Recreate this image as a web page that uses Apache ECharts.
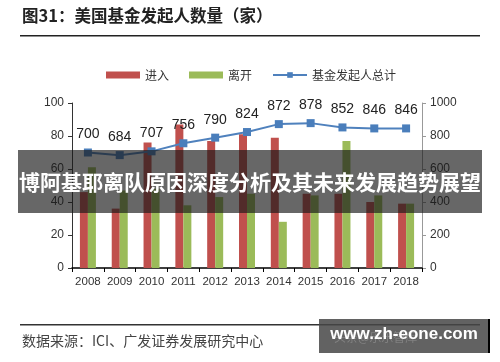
<!DOCTYPE html>
<html><head><meta charset="utf-8">
<script src="https://cdn.jsdelivr.net/npm/echarts@6/dist/echarts.min.js"></script>
<style>html,body{margin:0;padding:0;background:#fff}#c{width:500px;height:362px}</style>
</head><body><div id="c"></div>
<script>
const years = ['2008','2009','2010','2011','2012','2013','2014','2015','2016','2017','2018'];
const enter = [46,36,76,87,77,81,79,45,45,40,39];
const leave = [61,47,48,38,43,45,28,44,77,44,39];
const total = [700,684,707,756,790,824,872,878,852,846,846];
const leftTicks = [0,100,20];
const rightTicks = [0,1000,200];

const chart = echarts.init(document.getElementById('c'));
const axisCol = '#333';
chart.setOption({
  animation:false,
  backgroundColor:'#fff',
  textStyle:{fontFamily:'Liberation Sans, Arial, sans-serif'},
  legend:{
    left:101, top:64, itemWidth:34, itemHeight:7, itemGap:20,
    textStyle:{fontSize:12,color:'#333',fontFamily:'Noto Sans CJK SC'},
    data:[{name:'进入',icon:'rect'},{name:'离开',icon:'rect'},{name:'基金发起人总计'}]
  },
  grid:{left:72,right:78,top:103,bottom:94},
  xAxis:{
    type:'category', data:years,
    axisLine:{lineStyle:{color:'#000',width:1.5}},
    axisTick:{show:true,length:4,lineStyle:{color:'#000'}},
    axisLabel:{color:axisCol,fontSize:11.5,margin:8,interval:0}
  },
  yAxis:[
    {type:'value',min:leftTicks[0],max:leftTicks[1],interval:leftTicks[2],
     splitLine:{show:false},
     axisLine:{show:true,lineStyle:{color:'#333'}},
     axisTick:{show:true,length:4,lineStyle:{color:'#333'}},
     axisLabel:{color:axisCol,fontSize:12,margin:8}},
    {type:'value',min:rightTicks[0],max:rightTicks[1],interval:rightTicks[2],
     splitLine:{show:false},
     axisLine:{show:true,lineStyle:{color:'#999'}},
     axisTick:{show:true,length:4,lineStyle:{color:'#999'}},
     axisLabel:{color:axisCol,fontSize:12,margin:8,formatter:v=>String(v)}}
  ],
  series:[
    {name:'进入',type:'bar',data:enter,barWidth:8,barGap:'0%',itemStyle:{color:'#c0504d'}},
    {name:'离开',type:'bar',data:leave,barWidth:8,barGap:'0%',itemStyle:{color:'#9bbb59'}},
    {name:'基金发起人总计',type:'line',yAxisIndex:1,data:total,
     symbol:'rect',symbolSize:8,
     lineStyle:{color:'#4f81bd',width:2},itemStyle:{color:'#4a7ebb'},
     label:{show:true,position:'top',distance:7,fontSize:14,color:'#222'}}
  ],
  graphic:[
    {type:'text',left:22,top:7,style:{text:'图31：美国基金发起人数量（家）',fontSize:16.5,fontWeight:'bold',fill:'#222',fontFamily:'Noto Sans CJK SC'}},
    {type:'rect',shape:{x:20,y:35,width:460,height:1.5},style:{fill:'#222'}},
    {type:'rect',shape:{x:20,y:324,width:460,height:1.5},style:{fill:'#333'}},
    {type:'text',left:22,top:334,style:{text:'数据来源：ICI、广发证券发展研究中心',fontSize:14,fill:'#444',fontFamily:'Noto Sans CJK SC'}},
    {type:'rect',z:100,shape:{x:18,y:150,width:464,height:63},style:{fill:'rgba(25,25,25,0.66)'}},
    {type:'text',z:101,x:250,y:182,style:{text:'博阿基耶离队原因深度分析及其未来发展趋势展望',fontSize:21,fontWeight:'bold',fill:'#fff',fontFamily:'Noto Sans CJK SC',align:'center',verticalAlign:'middle'}},
    {type:'rect',z:100,shape:{x:319,y:319,width:170,height:34},style:{fill:'rgba(70,70,70,0.85)'}},
    {type:'rect',z:100,shape:{x:488,y:319,width:2,height:34},style:{fill:'#000'}},
    {type:'text',z:101,left:334,top:331,style:{text:'头条@乐乐智库',fontSize:12,fill:'rgba(150,150,150,0.6)',fontFamily:'Noto Sans CJK SC'}},
    {type:'text',z:102,x:404,y:334,style:{text:'www.zh-eone.com',fontSize:17,fontWeight:'bold',fill:'#fff',fontFamily:'Liberation Sans',align:'center',verticalAlign:'middle'}}
  ]
});
</script></body></html>
